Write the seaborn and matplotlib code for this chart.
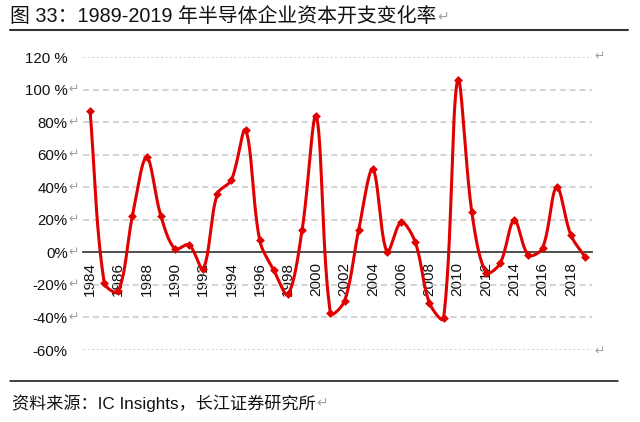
import numpy as np
import pandas as pd
import matplotlib
matplotlib.use("Agg")
import matplotlib.pyplot as plt
import matplotlib.transforms as mtransforms
from matplotlib.lines import Line2D
import seaborn as sns

# ---- data ----
years = list(range(1984, 2020))
capex_change = [87, -18.5, -24, 22.7, 58.6, 22.7, 2.2, 4.7, -10, 36, 44.7, 75.3,
                7.4, -11, -25.7, 14, 83.9, -37.3, -29.8, 14, 51.2, 0.4, 18.6, 6.3,
                -31, -40.6, 106.3, 24.9, -12.4, -6.7, 19.8, -1.6, 2.7, 40.2, 10.8, -2.7]
y_ticks = [120, 100, 80, 60, 40, 20, 0, -20, -40, -60]
y_tick_labels = ["120 %", "100 %", "80%", "60%", "40%", "20%", "0%", "-20%", "-40%", "-60%"]
x_label_years = list(range(1984, 2019, 2))
title_text = "图 33：1989-2019 年半导体企业资本开支变化率"
source_text = "资料来源：IC Insights，长江证券研究所"

sns.set_theme(style="white")
FAM = ["Liberation Sans", "Noto Sans CJK SC", "DejaVu Sans"]
plt.rcParams["font.family"] = FAM

W, H = 640, 422
fig = plt.figure(figsize=(W / 100, H / 100), dpi=100)
ax = fig.add_axes([83 / W, 1 - 350 / H, (592 - 83) / W, (350 - 57.4) / H])

pos = np.arange(len(years))
vals = np.array(capex_change, dtype=float)

# Excel-like smoothed line: Bezier with tangents weighted by screen-space segment length
PX_X = (592 - 83) / len(years)
PX_Y = (350 - 57.4) / 180.0

def smooth(xs, ys, n=30, f=1 / 3):
    P = np.column_stack([xs, ys]).astype(float)
    S = P * np.array([PX_X, PX_Y])
    N = len(P)
    cin, cout = np.zeros_like(P), np.zeros_like(P)
    for i in range(N):
        p0 = S[max(i - 1, 0)]
        p2 = S[min(i + 1, N - 1)]
        d0 = np.linalg.norm(S[i] - p0)
        d1 = np.linalg.norm(p2 - S[i])
        T = p2 - p0
        tot = d0 + d1 if d0 + d1 > 0 else 1
        cout[i] = S[i] + T * (d1 / tot) * f
        cin[i] = S[i] - T * (d0 / tot) * f
    out = []
    t = np.linspace(0, 1, n, endpoint=False)[:, None]
    for i in range(N - 1):
        p1, c1, c2, p2 = S[i], cout[i], cin[i + 1], S[i + 1]
        seg = ((1 - t) ** 3) * p1 + 3 * ((1 - t) ** 2) * t * c1 + 3 * (1 - t) * t ** 2 * c2 + t ** 3 * p2
        out.append(seg)
    out.append(S[-1][None, :])
    return np.vstack(out) / np.array([PX_X, PX_Y])

curve = smooth(pos, vals)
curve_df = pd.DataFrame({"x": curve[:, 0], "y": curve[:, 1]})
pts_df = pd.DataFrame({"x": pos, "y": vals})

RED = "#E00000"
for v in y_ticks:
    if v == 0:
        continue
    dashes = (1.5, 1.5) if v in (120, -60) else (4, 2.5)
    ax.axhline(v, color="#C8C8C8", lw=1.1, dashes=dashes, zorder=1)

sns.lineplot(data=curve_df, x="x", y="y", sort=False, ax=ax, color=RED, lw=2.2, zorder=4)
sns.scatterplot(data=pts_df, x="x", y="y", ax=ax, color=RED, s=20, marker="D",
                edgecolor=RED, linewidth=0, zorder=5)

ax.set_xlim(-0.5, len(years) - 0.5)
ax.set_ylim(-60, 120)
ax.set_xlabel("")
ax.set_ylabel("")

for s in ["top", "right", "left"]:
    ax.spines[s].set_visible(False)
ax.spines["bottom"].set_position(("data", 0))
ax.spines["bottom"].set_color("#404040")
ax.spines["bottom"].set_linewidth(1.3)

ax.set_yticks(y_ticks)
ax.set_yticklabels(y_tick_labels, fontsize=10.8, color="#111111")
ax.tick_params(axis="y", length=0, pad=11)

ax.set_xticks([years.index(y) for y in x_label_years])
ax.set_xticklabels([str(y) for y in x_label_years], rotation=90, fontsize=11, color="#111111")
ax.set_xticks(np.arange(-0.5, len(years), 1), minor=True)
ax.tick_params(axis="x", which="major", length=0, pad=7)
ax.tick_params(axis="x", which="minor", direction="in", length=4, width=1, color="#404040")
ax.patch.set_alpha(0)

GRAY = "#A0A0A0"
trans = mtransforms.blended_transform_factory(fig.transFigure, ax.transData)
for v in [100, 80, 60, 40, 20, 0, -20, -40]:
    fig.text(68.5 / W, v, "↵", transform=trans, fontsize=9, color=GRAY,
             va="center", ha="left", family=FAM)
fig.text(594 / W, 1 - 57 / H, "↵", fontsize=9, color=GRAY, va="center", family=FAM)
fig.text(594 / W, 1 - 352 / H, "↵", fontsize=9, color=GRAY, va="center", family=FAM)

t1 = fig.text(10 / W, 1 - 17 / H, title_text, fontsize=14.3, color="#111111", va="center", family=FAM)
t2 = fig.text(12 / W, 1 - 403 / H, source_text, fontsize=12.3, color="#111111", va="center", family=FAM)
fig.canvas.draw()
r = fig.canvas.get_renderer()
for tt, y in ((t1, 17), (t2, 403)):
    bb = tt.get_window_extent(r)
    fig.text((bb.x1 + 1) / W, 1 - y / H, "↵", fontsize=10, color=GRAY, va="center", family=FAM)

fig.add_artist(Line2D([10 / W, 628 / W], [1 - 30 / H, 1 - 30 / H], color="#333333", lw=1.5))
fig.add_artist(Line2D([10 / W, 618 / W], [1 - 381 / H, 1 - 381 / H], color="#111111", lw=1.1))

fig.savefig("out.png", dpi=100, facecolor="white")
